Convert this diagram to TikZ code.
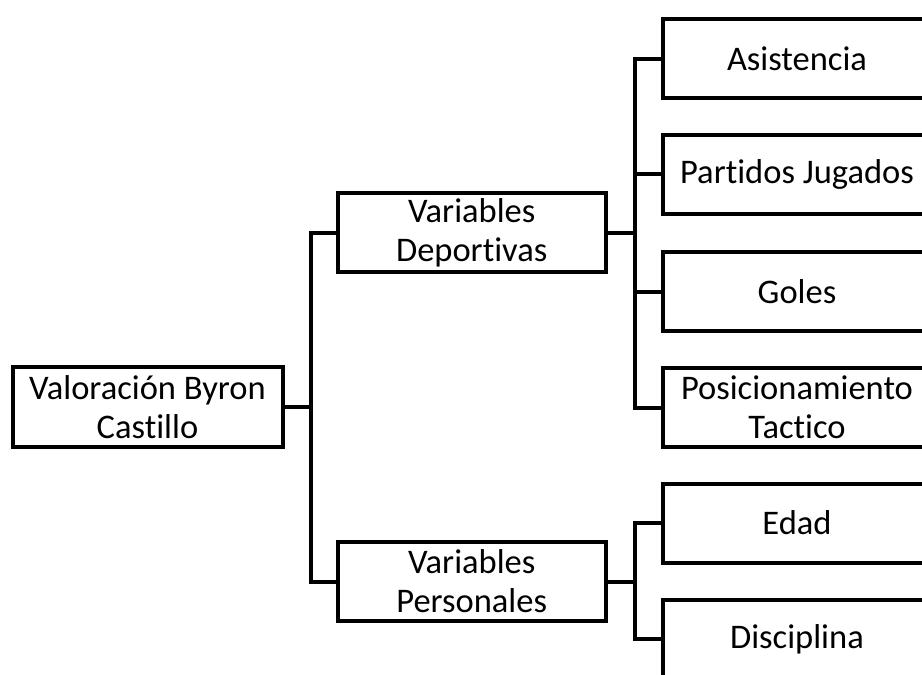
\documentclass[tikz,border=0pt]{standalone}
\usepackage{fontspec}
\setmainfont[Ligatures=NoCommon]{Carlito}
\begin{document}
\begin{tikzpicture}[x=1pt,y=-1pt,
  box/.style={draw=black, fill=white, line width=4pt, align=center,
    minimum width=268pt, minimum height=79pt, inner sep=2pt,
    font=\fontsize{34.5}{39}\selectfont},
  conn/.style={draw=black, line width=4pt}]
\clip (0,0) rectangle (922,675);
\fill[white] (0,0) rectangle (922,675);
\node[box, minimum width=270pt, minimum height=80pt] (root) at (147.5,407) {Valoración Byron\\Castillo};
\node[box] (dep) at (471.7,232.5) {Variables\\Deportivas};
\node[box] (pers) at (471.7,581.5) {Variables\\Personales};
\node[box] (asis) at (797,58.5) {Asistencia};
\node[box] (part) at (797,174) {Partidos Jugados};
\node[box] (gol) at (797,291.5) {Goles};
\node[box] (pos) at (797,407.5) {Posicionamiento\\Tactico};
\node[box] (edad) at (797,523) {Edad};
\node[box] (disc) at (797,639) {Disciplina};
\draw[conn] (root.east) -- ++(26,0) coordinate (j1);
\draw[conn] (dep.west) -| (j1) |- (pers.west);
\draw[conn] (dep.east) -- ++(27,0) coordinate (j2);
\draw[conn] (asis.west) -| (j2) |- (pos.west);
\draw[conn] (part.west) -- (part.west -| j2);
\draw[conn] (gol.west) -- (gol.west -| j2);
\draw[conn] (pers.east) -- ++(27,0) coordinate (j3);
\draw[conn] (edad.west) -| (j3) |- (disc.west);
\end{tikzpicture}
\end{document}
